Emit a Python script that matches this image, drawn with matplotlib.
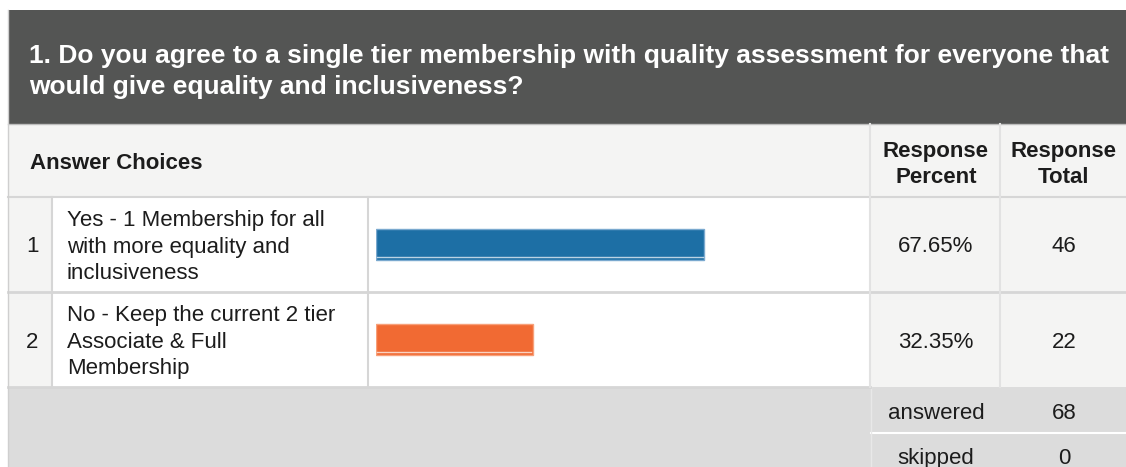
"""Survey question summary table with horizontal response bars."""

import matplotlib
import matplotlib.pyplot as plt
from matplotlib.patches import Rectangle

matplotlib.use("Agg")
plt.rcParams["font.family"] = ["Liberation Sans", "DejaVu Sans"]

question = ("1. Do you agree to a single tier membership with quality assessment for everyone that\n"
            "would give equality and inclusiveness?")
choices = [
    "Yes - 1 Membership for all\nwith more equality and\ninclusiveness",
    "No - Keep the current 2 tier\nAssociate & Full\nMembership",
]
percents = [67.65, 32.35]
totals = [46, 22]
answered = 68
skipped = 0
bar_colors = ["#1d6fa5", "#f16a33"]
bar_edges = ["#7aa9cf", "#f7a07a"]

W, H = 1126, 467
DARK = "#545554"
LIGHT = "#f4f4f3"
FOOT = "#dcdcdc"
LINE = "#d6d6d6"
TXT = "#1c1c1c"
FS = 16
DY = 2.5  # text sits a little high with va="center"

fig = plt.figure(figsize=(W / 100, H / 100), dpi=100)
ax = fig.add_axes([0, 0, 1, 1])
ax.set_xlim(0, W)
ax.set_ylim(H, 0)
ax.axis("off")


def box(x0, y0, x1, y1, color):
    ax.add_patch(Rectangle((x0, y0), x1 - x0, y1 - y0, facecolor=color,
                           edgecolor="none", zorder=1))


def label(x, y, s, **kw):
    kw.setdefault("fontsize", FS)
    kw.setdefault("color", TXT)
    kw.setdefault("va", "center")
    kw.setdefault("ha", "center")
    ax.text(x, y + DY, s, zorder=3, **kw)


# header
box(8, 10, W, 124, DARK)
label(29, 69, question, color="white", fontsize=19, fontweight="bold",
      ha="left", linespacing=1.36)

# column headings
box(8, 124, W, 197, LIGHT)
label(30, 161, "Answer Choices", fontweight="bold", ha="left")
label(936, 162, "Response\nPercent", fontweight="bold", linespacing=1.3)
label(1064, 162, "Response\nTotal", fontweight="bold", linespacing=1.3)

# answer rows
row_top = 197
row_h = 95
for i, (txt, pct, tot) in enumerate(zip(choices, percents, totals)):
    y0 = row_top + i * row_h
    yc = y0 + row_h / 2
    box(8, y0, 52, y0 + row_h, LIGHT)
    box(52, y0, 870, y0 + row_h, "white")
    box(870, y0, W, y0 + row_h, LIGHT)
    label(32, yc, str(i + 1))
    label(67, yc, txt, ha="left", linespacing=1.35)
    label(936, yc, f"{pct:.2f}%")
    label(1064, yc, str(tot))

# footer
foot_top = row_top + len(choices) * row_h
box(8, foot_top, W, H, FOOT)
label(936, 411, "answered")
label(1064, 411, str(answered))
label(936, 456, "skipped")
label(1064, 456, str(skipped))
ax.plot([871, W], [433, 433], color="white", lw=1.5, zorder=2)
ax.plot([871, 871], [foot_top, H], color="#e8e8e8", lw=1, zorder=2)

# grid lines
ax.plot([8, W], [124, 124], color="#bdbdbd", lw=1, zorder=2)
ax.plot([8, W], [197, 197], color=LINE, lw=1.5, zorder=2)
ax.plot([8, W], [292, 292], color=LINE, lw=2, zorder=2)
ax.plot([8, 870], [foot_top, foot_top], color=LINE, lw=2, zorder=2)
for x in (52, 368):
    ax.plot([x, x], [197, foot_top], color=LINE, lw=1.5, zorder=2)
for x in (870, 1000):
    ax.plot([x, x], [124, foot_top], color="#e2e2e2", lw=1.5, zorder=2)
ax.plot([8, 8], [10, H], color="#cfcfcf", lw=1, zorder=2)

# bars in their own axes, 0-100 %
bx0, bx1 = 376, 861
bar_ax = fig.add_axes([bx0 / W, 1 - foot_top / H, (bx1 - bx0) / W, (foot_top - row_top) / H])
bar_ax.set_xlim(0, 100)
bar_ax.set_ylim(len(choices) - 0.5, -0.5)
bar_ax.axis("off")
ypos = list(range(len(choices)))
bar_h = 0.316
bar_ax.barh(ypos, percents, height=bar_h, color=bar_colors, edgecolor=bar_edges,
            linewidth=1)
for y, p in zip(ypos, percents):
    bar_ax.plot([0.3, p - 0.3], [y + bar_h / 2 - 0.025] * 2, color="white",
                lw=1, alpha=0.7)

fig.savefig("out.png", dpi=100)
plt.close(fig)
